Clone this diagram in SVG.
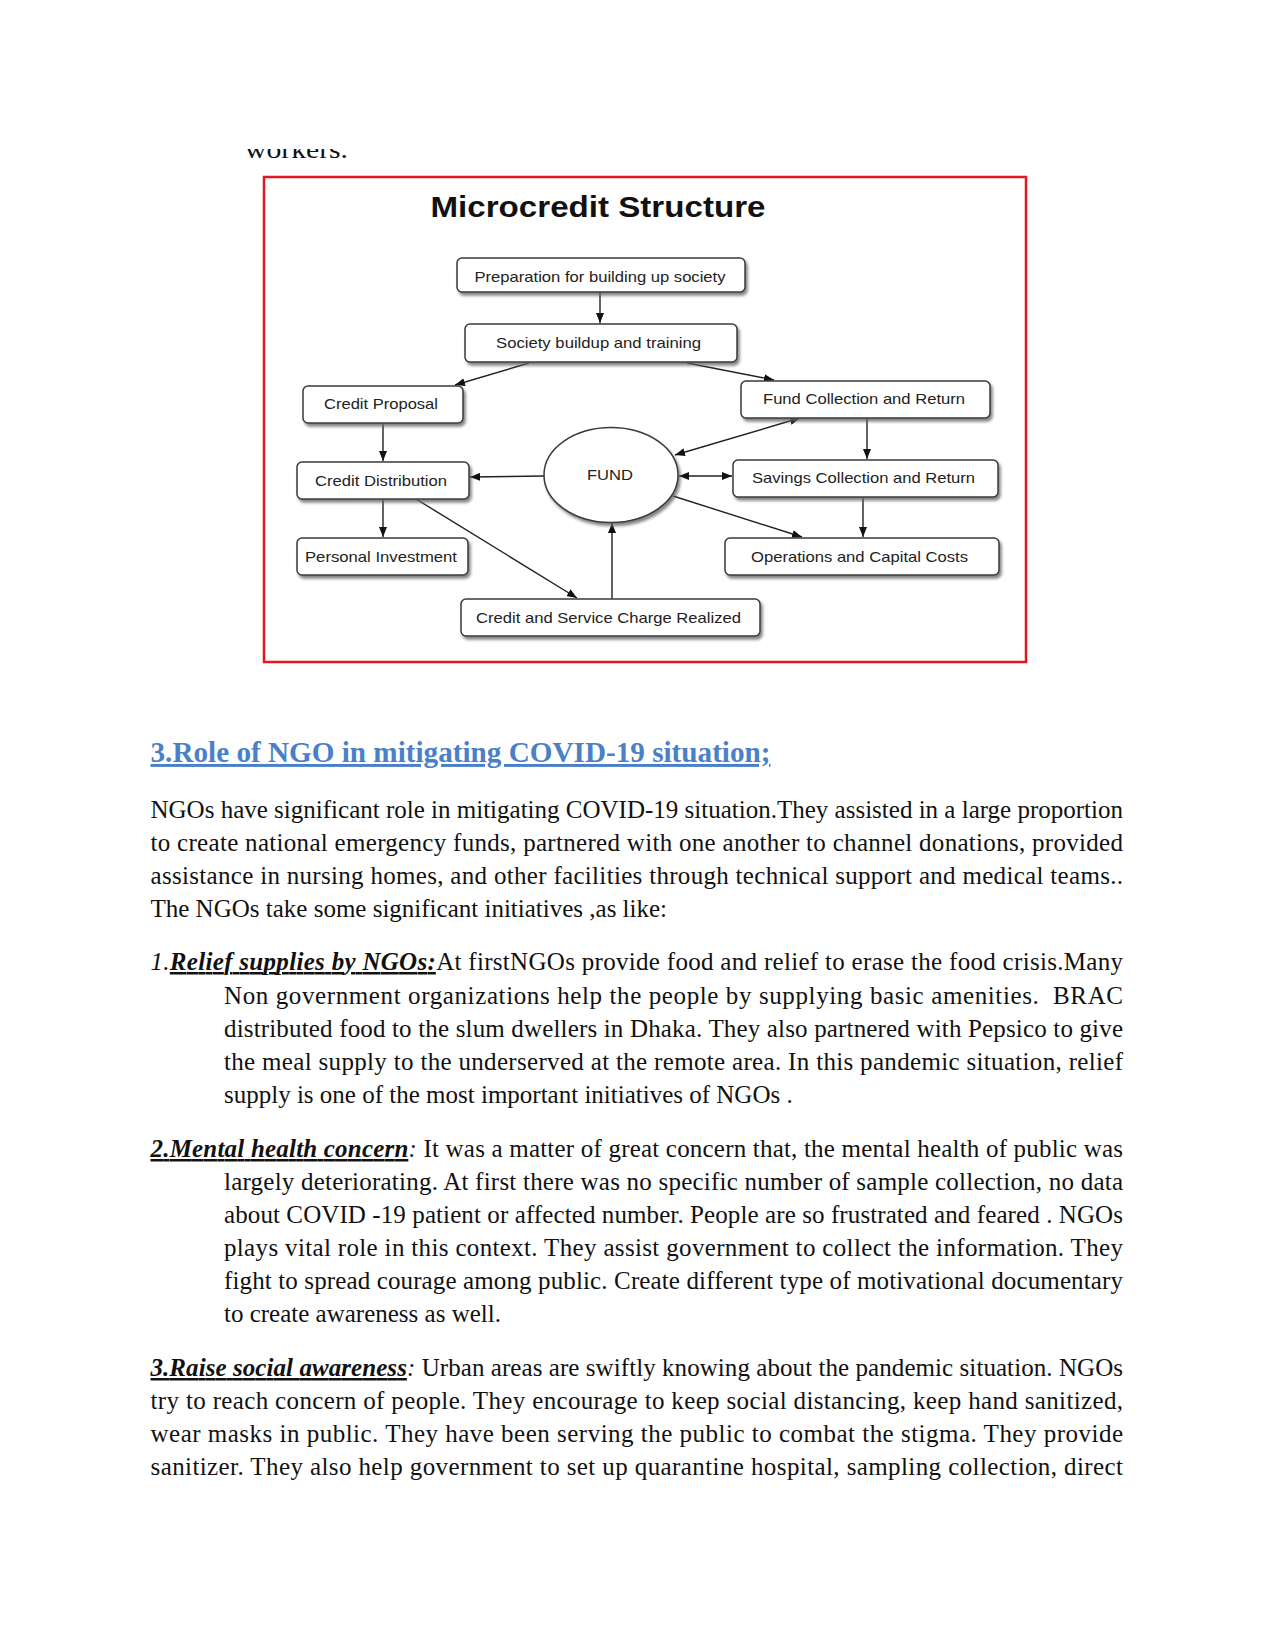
<svg xmlns="http://www.w3.org/2000/svg" width="1275" height="1651" viewBox="0 0 1275 1651">
<style>
.bx{fill:#fff;stroke:#3a3a3a;stroke-width:1.5}
.bt{font-family:"Liberation Sans",Arial,sans-serif;font-size:14.5px;fill:#222;text-anchor:middle}
.cn{stroke:#222;stroke-width:1.4;fill:none}
.body{font-family:"Liberation Serif","Times New Roman",serif;font-size:25px;fill:#111}
.lab{font-weight:bold;font-style:italic;text-decoration:underline}
.it{font-style:italic}
</style>
<defs>
<marker id="ah" viewBox="0 0 10 8" refX="10" refY="4" markerWidth="10" markerHeight="8" markerUnits="userSpaceOnUse" orient="auto-start-reverse">
<path d="M0,0 L10,4 L0,8 z" fill="#111"/>
</marker>
<filter id="sh" x="-10%" y="-20%" width="130%" height="160%">
<feDropShadow dx="2" dy="3" stdDeviation="1.6" flood-color="#666" flood-opacity="0.8"/>
</filter>
<clipPath id="clipTop"><rect x="0" y="149" width="1275" height="30"/></clipPath>
</defs>
<rect width="1275" height="1651" fill="#fff"/>

<text class="body" x="245" y="158" font-size="29.7" textLength="103" lengthAdjust="spacingAndGlyphs" clip-path="url(#clipTop)">workers.</text>

<g id="diagram-frame">
<rect x="264" y="177" width="762" height="485" fill="none" stroke="#e0181f" stroke-width="2.5"/>
<text x="598" y="217" font-family="'Liberation Sans',Arial,sans-serif" font-size="30" font-weight="bold" fill="#111" text-anchor="middle" textLength="335" lengthAdjust="spacingAndGlyphs">Microcredit Structure</text>
</g>

<g id="connectors">
<line class="cn" x1="600" y1="292" x2="600" y2="323" marker-end="url(#ah)"/>
<line class="cn" x1="529" y1="363" x2="455" y2="385" marker-end="url(#ah)"/>
<line class="cn" x1="687" y1="363" x2="774" y2="380" marker-end="url(#ah)"/>
<line class="cn" x1="383" y1="423" x2="383" y2="461" marker-end="url(#ah)"/>
<line class="cn" x1="383" y1="499" x2="383" y2="537" marker-end="url(#ah)"/>
<line class="cn" x1="867" y1="418" x2="867" y2="459" marker-end="url(#ah)"/>
<line class="cn" x1="863" y1="497" x2="863" y2="537" marker-end="url(#ah)"/>
<line class="cn" x1="544" y1="476" x2="470" y2="477" marker-end="url(#ah)"/>
<line class="cn" x1="416" y1="499" x2="577" y2="598" marker-end="url(#ah)"/>
<line class="cn" x1="612" y1="599" x2="612" y2="523" marker-end="url(#ah)"/>
<line class="cn" x1="673" y1="496" x2="802" y2="537" marker-end="url(#ah)"/>
<line class="cn" x1="675" y1="455" x2="800" y2="418" marker-start="url(#ah)" marker-end="url(#ah)"/>
<line class="cn" x1="679" y1="476" x2="732" y2="476" stroke-width="2" marker-start="url(#ah)" marker-end="url(#ah)"/>
</g>

<g id="n-prep"><rect class="bx" x="457" y="258" width="288" height="34" rx="5" filter="url(#sh)"/><text class="bt" x="600" y="282" textLength="251" lengthAdjust="spacingAndGlyphs">Preparation for building up society</text></g>
<g id="n-society"><rect class="bx" x="465" y="324" width="272" height="38" rx="5" filter="url(#sh)"/><text class="bt" x="598.5" y="348" textLength="205" lengthAdjust="spacingAndGlyphs">Society buildup and training</text></g>
<g id="n-credprop"><rect class="bx" x="303" y="386" width="160" height="37" rx="5" filter="url(#sh)"/><text class="bt" x="381" y="409" textLength="114" lengthAdjust="spacingAndGlyphs">Credit Proposal</text></g>
<g id="n-fundcoll"><rect class="bx" x="741" y="381" width="249" height="37" rx="5" filter="url(#sh)"/><text class="bt" x="864" y="404" textLength="202" lengthAdjust="spacingAndGlyphs">Fund Collection and Return</text></g>
<g id="n-creddist"><rect class="bx" x="297" y="462" width="172" height="37" rx="5" filter="url(#sh)"/><text class="bt" x="381" y="486" textLength="132" lengthAdjust="spacingAndGlyphs">Credit Distribution</text></g>
<g id="n-fund"><ellipse class="bx" cx="611" cy="475" rx="67" ry="47.5" filter="url(#sh)"/><text class="bt" x="610" y="480" textLength="46" lengthAdjust="spacingAndGlyphs">FUND</text></g>
<g id="n-savings"><rect class="bx" x="733" y="460" width="265" height="37" rx="5" filter="url(#sh)"/><text class="bt" x="863.5" y="483" textLength="223" lengthAdjust="spacingAndGlyphs">Savings Collection and Return</text></g>
<g id="n-personal"><rect class="bx" x="297" y="538" width="171" height="37" rx="5" filter="url(#sh)"/><text class="bt" x="381" y="562" textLength="152" lengthAdjust="spacingAndGlyphs">Personal Investment</text></g>
<g id="n-operations"><rect class="bx" x="725" y="538" width="274" height="37" rx="5" filter="url(#sh)"/><text class="bt" x="859.5" y="562" textLength="217" lengthAdjust="spacingAndGlyphs">Operations and Capital Costs</text></g>
<g id="n-credsvc"><rect class="bx" x="461" y="599" width="299" height="37" rx="5" filter="url(#sh)"/><text class="bt" x="608.5" y="623" textLength="265" lengthAdjust="spacingAndGlyphs">Credit and Service Charge Realized</text></g>

<g id="body-text">
<text x="150.5" y="762" font-family="'Liberation Serif','Times New Roman',serif" font-size="29" font-weight="bold" fill="#4a80c8" text-decoration="underline" textLength="620" lengthAdjust="spacingAndGlyphs">3.Role of NGO in mitigating COVID-19 situation;</text>

<text class="body" x="150.5" y="818" textLength="972.5" lengthAdjust="spacing">NGOs have significant role in mitigating COVID-19 situation.They assisted in a large proportion</text>
<text class="body" x="150.5" y="851" textLength="972.5" lengthAdjust="spacing">to create national emergency funds, partnered with one another to channel donations, provided</text>
<text class="body" x="150.5" y="884" textLength="972.5" lengthAdjust="spacing">assistance in nursing homes, and other facilities through technical support and medical teams..</text>
<text class="body" x="150.5" y="917">The NGOs take some significant initiatives ,as like:</text>

<text class="body" x="150.5" y="970" textLength="972.5" lengthAdjust="spacing"><tspan class="it">1.</tspan><tspan class="lab">Relief supplies by NGOs:</tspan>At firstNGOs provide food and relief to erase the food crisis.Many</text>
<text class="body" x="224" y="1004" textLength="899" lengthAdjust="spacing">Non government organizations help the people by supplying basic amenities.&#160; BRAC</text>
<text class="body" x="224" y="1037" textLength="899" lengthAdjust="spacing">distributed food to the slum dwellers in Dhaka. They also partnered with Pepsico to give</text>
<text class="body" x="224" y="1070" textLength="899" lengthAdjust="spacing">the meal supply to the underserved at the remote area. In this pandemic situation, relief</text>
<text class="body" x="224" y="1103">supply is one of the most important initiatives of NGOs .</text>

<text class="body" x="150.5" y="1157" textLength="972.5" lengthAdjust="spacing"><tspan class="lab">2.Mental health concern</tspan><tspan class="it">:</tspan> It was a matter of great concern that, the mental health of public was</text>
<text class="body" x="224" y="1190" textLength="899" lengthAdjust="spacing">largely deteriorating. At first there was no specific number of sample collection, no data</text>
<text class="body" x="224" y="1223" textLength="899" lengthAdjust="spacing">about COVID -19 patient or affected number. People are so frustrated and feared . NGOs</text>
<text class="body" x="224" y="1256" textLength="899" lengthAdjust="spacing">plays vital role in this context. They assist government to collect the information. They</text>
<text class="body" x="224" y="1289" textLength="899" lengthAdjust="spacing">fight to spread courage among public. Create different type of motivational documentary</text>
<text class="body" x="224" y="1322">to create awareness as well.</text>

<text class="body" x="150.5" y="1376" textLength="972.5" lengthAdjust="spacing"><tspan class="lab">3.Raise social awareness</tspan><tspan class="it">:</tspan> Urban areas are swiftly knowing about the pandemic situation. NGOs</text>
<text class="body" x="150.5" y="1409" textLength="972.5" lengthAdjust="spacing">try to reach concern of people. They encourage to keep social distancing, keep hand sanitized,</text>
<text class="body" x="150.5" y="1442" textLength="972.5" lengthAdjust="spacing">wear masks in public. They have been serving the public to combat the stigma. They provide</text>
<text class="body" x="150.5" y="1475" textLength="972.5" lengthAdjust="spacing">sanitizer. They also help government to set up quarantine hospital, sampling collection, direct</text>
</g>
</svg>
